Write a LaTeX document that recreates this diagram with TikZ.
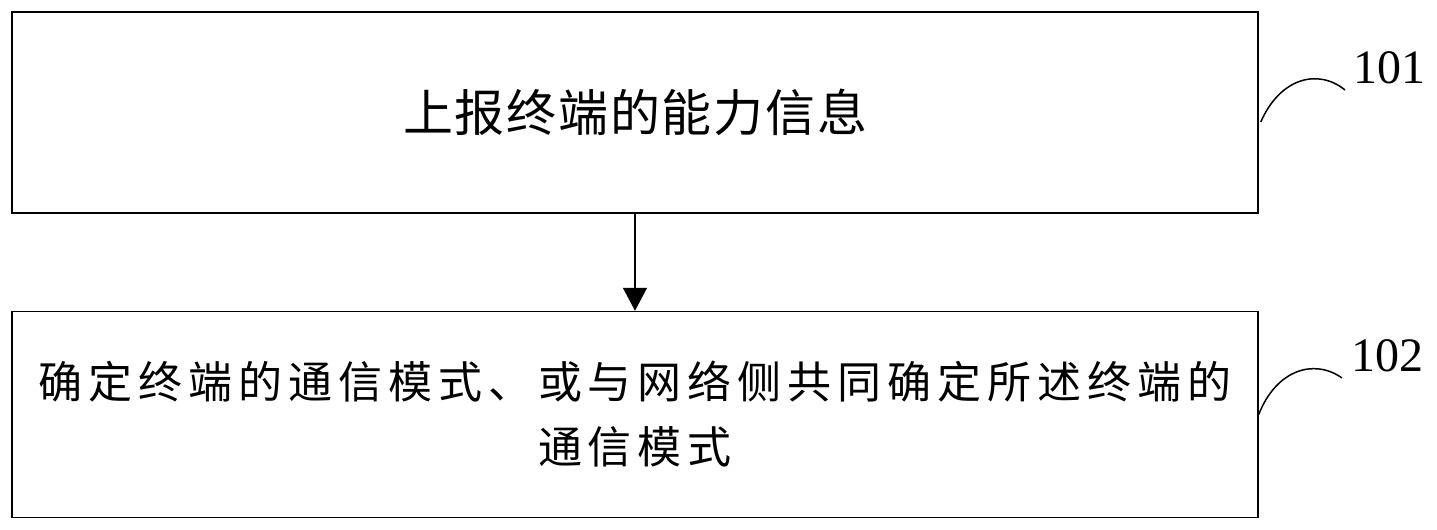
\documentclass[tikz,border=0pt]{standalone}
\usepackage{fontspec}
\setmainfont{Liberation Serif}
\newfontfamily\cjkbig[LetterSpace=3.5]{Noto Sans CJK SC}
\newfontfamily\cjksmall[LetterSpace=13.5]{Noto Sans CJK SC}
\usetikzlibrary{positioning,arrows.meta}
\begin{document}
\begin{tikzpicture}[x=0.5pt,y=-0.5pt,line width=0.75pt,
				box/.style={draw,minimum width=623pt,inner sep=0pt,align=center},
				num/.style={inner sep=0pt,font=\fontsize{24pt}{24pt}\selectfont}]
\useasboundingbox (0,0) rectangle (1437,530);
\node[box,minimum height=100.5pt,font=\cjkbig\fontsize{25pt}{30pt}\selectfont] (report) at (635,112.5) {上报终端的能力信息};
\node[box,minimum height=103pt,below=48.5pt of report,font=\cjksmall\fontsize{22pt}{32.5pt}\selectfont] (mode)
	{确定终端的通信模式、或与网络侧共同确定所述终端的\\通信模式};
\draw[-{Triangle[length=11.5pt,width=12pt]}] (report) -- (mode);
\node[num] (n101) at (1389,67.5) {101};
\node[num] (n102) at (1387,356) {102};
\draw ([shift={(2,9.5)}]report.east) .. controls (1280,78) and (1318,68) .. ([shift={(-44,22.5)}]n101.center);
\draw (mode.east) .. controls (1276,370) and (1314,358) .. ([shift={(-45,22)}]n102.center);
\end{tikzpicture}
\end{document}
